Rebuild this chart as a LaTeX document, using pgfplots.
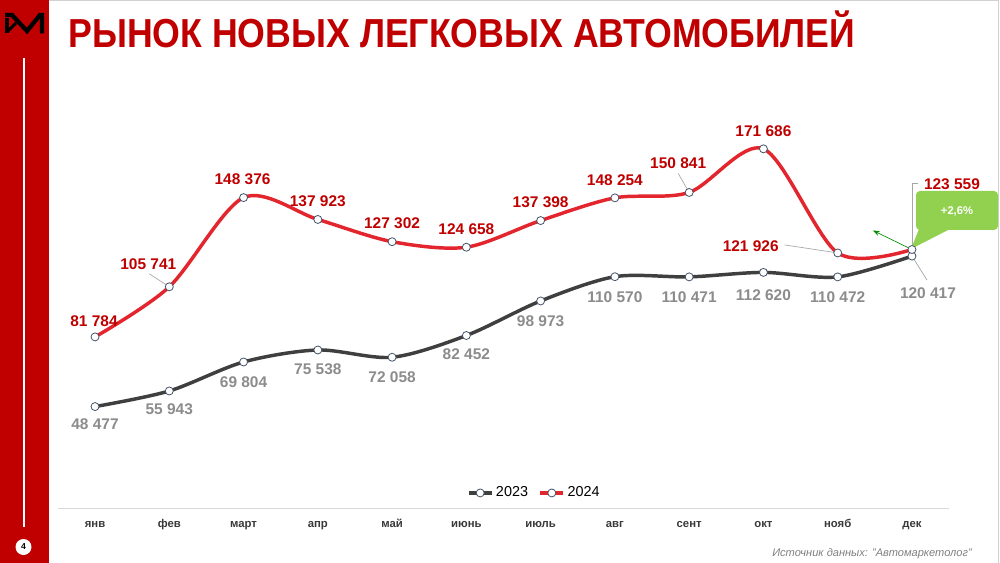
\documentclass[border=0pt]{standalone}
\usepackage{fontspec}
\setmainfont{Liberation Sans}
\usepackage{pgfplots}
\pgfplotsset{compat=1.18}
\usepackage{pgfplotstable}
\usepackage{graphicx}
\usetikzlibrary{arrows.meta}

\definecolor{slidered}{HTML}{C00000}
\definecolor{line24}{HTML}{E3262E}
\definecolor{line23}{HTML}{3F3F3F}
\definecolor{lab24}{HTML}{C00000}
\definecolor{lab23}{HTML}{8C8C8C}
\definecolor{markdraw}{HTML}{44546A}
\definecolor{callout}{HTML}{92D050}
\definecolor{ticktext}{HTML}{3A3A3A}

% x  value  label offset (px, up positive)
\pgfplotstableread{
x y dx dy
0 81784 -1 16
1 105741 -21 23
2 148376 -1 18
3 137923 0 18
4 127302 0 18
5 124658 0 18
6 137398 0 18
7 148254 0 18
8 150841 -11 29
9 171686 0 18
10 121926 -87 7
11 123559 40 65
}\datab

\pgfplotstableread{
x y dx dy
0 48477 0 -18
1 55943 0 -18
2 69804 0 -20
3 75538 0 -19
4 72058 0 -20
5 82452 0 -19
6 98973 0 -20
7 110570 0 -20
8 110471 0 -20
9 112620 0 -23
10 110472 0 -20
11 120417 16 -37
}\dataa

\pgfplotsset{
  labelled/.style={
    visualization depends on={\thisrow{dx} \as \dx},
    visualization depends on={\thisrow{dy} \as \dy},
    nodes near coords={\pgfmathprintnumber[fixed,precision=0,1000 sep={\ },assume math mode=true]{\pgfplotspointmeta}},
    every node near coord/.append style={anchor=center, xshift=\dx*0.75pt, yshift=\dy*0.75pt,
       font=\bfseries\fontsize{11.6}{12}\selectfont, inner sep=0pt, text=#1},
  },
  series/.style={#1, line width=2.6pt, smooth, tension=0.5,
    mark=*, mark size=3pt, mark options={solid, fill=white, draw=markdraw, line width=0.6pt}},
}

\begin{document}
\begin{tikzpicture}[x=0.75pt,y=-0.75pt]
\useasboundingbox (0,0) rectangle (1000,563);
\fill[white] (0,0) rectangle (1000,563);
\draw[black!18, line width=0.75pt] (49,0.5) -- (998.5,0.5) -- (998.5,563);
% red strip
\fill[slidered] (0,0) rectangle (49,563);
\draw[white, line width=1.3pt] (24,58) -- (24,527);
\fill[white] (23.5,547) circle (8);
\node[font=\bfseries\fontsize{6.5}{7}\selectfont, inner sep=0] at (23.5,547) {4};
% logo
\draw[black, line width=3.2pt, line join=miter] (7,33.5) -- (7,18);
\draw[black, line width=3.2pt, line join=miter] (5,15) -- (12,15) -- (27,31) -- (40,15) -- (42,15) -- (42,33.5);
\draw[black, line width=2.2pt] (8,31) -- (16,23);
% title
\node[anchor=base west, inner sep=0, text=slidered] at (68,48)
  {\resizebox{590.25pt}{\height}{\fontsize{30.4}{32}\selectfont\bfseries РЫНОК НОВЫХ ЛЕГКОВЫХ АВТОМОБИЛЕЙ}};
% source
\node[anchor=base east, inner sep=0, text=black!50] at (972,556)
  {\fontsize{8.3}{10}\selectfont\itshape Источник данных: "Автомаркетолог"};
% callout (drawn below the labels)
\fill[callout, rounded corners=3pt] (916,191) rectangle (998,230);
\fill[callout] (921,224) -- (950,229) -- (911,249) -- cycle;
\node[text=white, font=\bfseries\fontsize{8.4}{9}\selectfont, inner sep=0] at (957,211) {+2,6\%};
% leader line of the december 2024 label (picture coordinates)
\draw[black!35, line width=0.5pt] (912,245) -- (912,183) -- (918,183);

\begin{axis}[
  at={(43.425pt,-381pt)}, anchor=south west,
  scale only axis, width=668.4pt, height=313.8pt,
  xmin=-0.5, xmax=11.5, ymin=0, ymax=200000,
  axis x line*=bottom, axis y line=none,
  x axis line style={black!15, line width=0.75pt},
  xtick={0,...,11},
  xticklabels={янв,фев,март,апр,май,июнь,июль,авг,сент,окт,нояб,дек},
  major tick length=0pt,
  xticklabel style={anchor=base, yshift=-14.25pt, text=ticktext, font=\bfseries\fontsize{8.5}{10}\selectfont},
  ytick=\empty,
  clip=false,
  legend style={at={(0.535,0.036)}, anchor=center, draw=none, fill=none,
    legend columns=2, font=\fontsize{10.8}{12}\selectfont,
    /tikz/every even column/.append style={column sep=6pt}},
  legend cell align=left,
]
% leader lines
\draw[black!35, line width=0.5pt] (axis cs:1,105741) -- ++(-15pt,9.75pt);
\draw[black!35, line width=0.5pt] (axis cs:8,150841) -- ++(-8.25pt,14.25pt);
\draw[black!35, line width=0.5pt] (axis cs:10,121926) -- ++(-39.75pt,6pt);
\draw[black!35, line width=0.5pt] (axis cs:11,120417) -- ++(11.25pt,-18pt);
\draw[-{Stealth[length=5pt]}, green!55!black, line width=0.5pt] (axis cs:11,123559) -- ++(-29.25pt,14.25pt);

\addplot[series=line23, labelled=lab23, forget plot] table[x=x,y=y]{\dataa};
\addplot[series=line24, labelled=lab24, forget plot] table[x=x,y=y]{\datab};
\addlegendimage{series=line23}
\addlegendentry{2023}
\addlegendimage{series=line24}
\addlegendentry{2024}
\end{axis}
\end{tikzpicture}
\end{document}
